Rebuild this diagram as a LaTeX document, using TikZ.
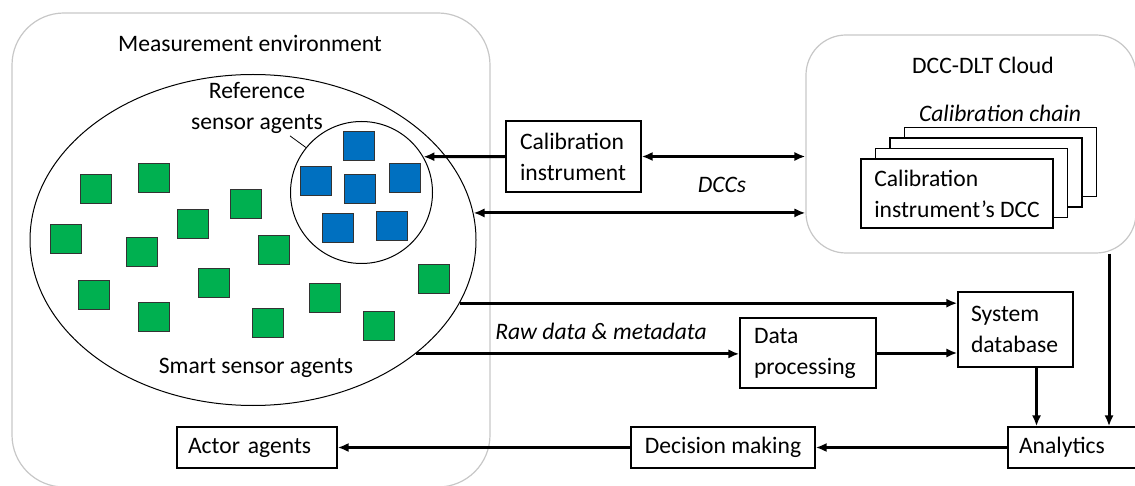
\documentclass[tikz,border=0pt]{standalone}
\usepackage{fontspec}
\setmainfont{Carlito}
\usetikzlibrary{arrows.meta,%
                shapes.geometric}
\definecolor{sgreen}{HTML}{00B050}
\definecolor{sblue}{HTML}{0070C0}
\tikzstyle{envbox}=[rectangle, draw=black!22, line width=0.6pt, rounded corners=26pt]
\tikzstyle{qbox}=[rectangle, draw, line width=0.7pt, fill=white, inner ysep=0pt]
\tikzstyle{sgre}=[rectangle, draw=black!80, thin, fill=sgreen, minimum width=15.5pt, minimum height=14.5pt, inner sep=0pt]
\tikzstyle{sblu}=[sgre, fill=sblue]
\tikzstyle{dccpage}=[qbox, minimum height=34.5pt, minimum width=96pt, align=left]
\tikzstyle{flow}=[line width=1.5pt, -{Latex[length=5.5pt,width=4.6pt]}]
\tikzstyle{flows}=[line width=1.5pt, {Latex[length=5.5pt,width=4.6pt]}-{Latex[length=5.5pt,width=4.6pt]}]

\begin{document}
\fontsize{11.8}{15.5}\selectfont
\begin{tikzpicture}[x=0.5pt,y=-0.5pt]
  \useasboundingbox (0,0) rectangle (1135,486);
  % environments
  \node[envbox, minimum width=239pt, minimum height=237pt] (env) at (251,250) {};
  \node[envbox, rounded corners=20pt, minimum width=165pt, minimum height=109pt] (cloud) at (971,144) {};
  \node (envlabel) at (250,43) {Measurement environment};
  \node (cloudlabel) at (983,65) {DCC-DLT Cloud};

  % sensor agents
  \node[ellipse, draw, line width=0.5pt, minimum width=223pt, minimum height=165.5pt] (smart) at (253,240) {};
  \node[circle, draw, line width=0.5pt, minimum size=71pt, inner sep=0pt] (ref) at (361.5,192.5) {};
  \node[align=center] (reflabel) at (257,108) {Reference\\sensor agents};
  \draw[line width=0.4pt] ([xshift=16.5pt,yshift=3pt]reflabel.south) -- (ref.141);
  \node (smartlabel) at (256,368) {Smart sensor agents};

  \foreach \x/\y [count=\i] in {96/189,154/178,66/239,193/224,246/204,142/252,274/250,
                                94/295,214/283,154/317,268/323,325/298,379/326,434/279}
    \node[sgre] (g\i) at (\x,\y) {};
  \foreach \x/\y [count=\i] in {359/146,316/181,360/189,405/178,338/228,392/226}
    \node[sblu] (b\i) at (\x,\y) {};

  % calibration chain
  \node (chainlabel) at (1000,113) {\itshape Calibration chain};
  \foreach \i in {3,2,1}
    \node[dccpage] (page\i) at ({957+14.5*\i},{193.5-10.5*\i}) {};
  \node[dccpage] (dcc) at (957,193.5) {Calibration\\instrument’s DCC};

  % boxes
  \node[qbox, minimum height=35.5pt, text width=53.5pt, inner xsep=7pt, align=left] (calib) at (573.5,156.5) {Calibration\\instrument};
  \node[qbox, minimum height=35pt, text width=54pt, inner xsep=7pt, align=left] (dataproc) at (808,353) {Data\\processing};
  \node[qbox, minimum height=37.5pt, text width=44.5pt, inner xsep=6.5pt, align=left] (sysdb) at (1015.5,329.5) {System\\database};
  \node[qbox, minimum height=20.5pt, text width=55pt, inner xsep=5.5pt, align=left] (analytics) at (1074,447.5) {Analytics};
  \node[qbox, minimum height=20.5pt, minimum width=92pt] (decision) at (723,447.5) {Decision making};
  \node[qbox, minimum height=20.5pt, text width=69pt, inner xsep=5.5pt, align=left] (actor) at (257,447.5) {Actor agents};

  % labels
  \node (dccs) at (722,185) {\itshape DCCs};
  \node (rawdata) at (601,331) {\itshape Raw data \& metadata};

  % arrows
  \draw[flow] (calib.west) -- (ref.30);
  \draw[flows] (calib.east) -- (calib.east -| cloud.west);
  \draw[flows] (smart.7) -- (smart.7 -| cloud.west);
  \draw[flow] (smart.-17) -- (smart.-17 -| sysdb.west);
  \draw[flow] (smart.-35) -- (smart.-35 -| dataproc.west);
  \draw[flow] (dataproc.east) -- (dataproc.east -| sysdb.west);
  \draw[flow] ([xshift=10.5pt]sysdb.south) -- ([xshift=10.5pt]sysdb.south |- analytics.north);
  \draw[flow] ([xshift=69pt]cloud.south) -- ([xshift=69pt]cloud.south |- analytics.north);
  \draw[flow] (analytics.west) -- (decision.east);
  \draw[flow] (decision.west) -- (actor.east);
\end{tikzpicture}
\end{document}
